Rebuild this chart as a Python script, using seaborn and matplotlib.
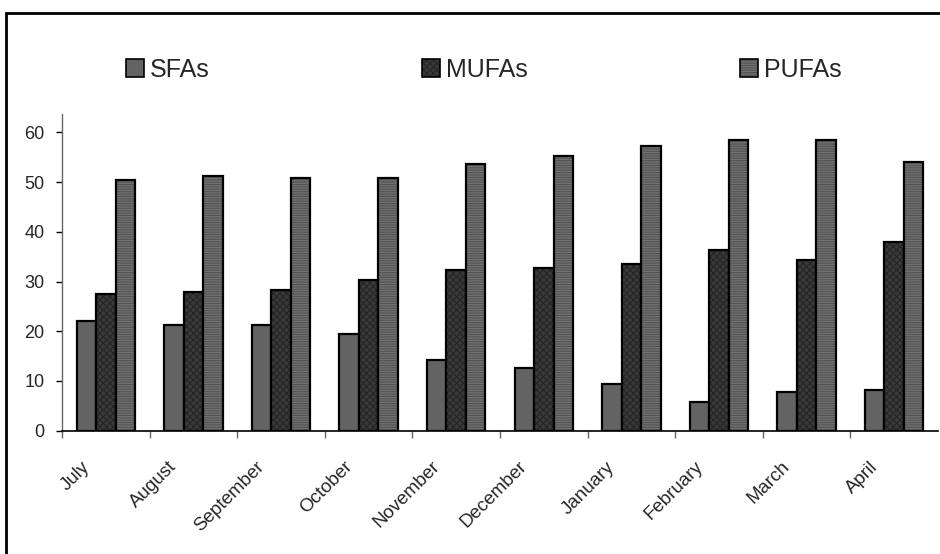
import matplotlib
matplotlib.use("Agg")
import matplotlib.pyplot as plt
import matplotlib.patches as mpatches
import matplotlib.transforms as mtransforms
from matplotlib.colors import to_rgba
import seaborn as sns
import pandas as pd
import numpy as np

months = ["July", "August", "September", "October", "November",
          "December", "January", "February", "March", "April"]
sfas = [22.1, 21.3, 21.3, 19.4, 14.2, 12.6, 9.4, 5.8, 7.8, 8.2]
mufas = [27.4, 27.8, 28.2, 30.3, 32.3, 32.7, 33.5, 36.3, 34.3, 37.9]
pufas = [50.4, 51.2, 50.8, 50.8, 53.6, 55.2, 57.3, 58.5, 58.5, 54.1]
series = ["SFAs", "MUFAs", "PUFAs"]
yticks = [0, 10, 20, 30, 40, 50, 60]

df = pd.DataFrame({
    "month": months * 3,
    "value": sfas + mufas + pufas,
    "series": [s for s in series for _ in months],
})

sns.set_theme(style="white")
plt.rcParams["font.family"] = ["Liberation Sans", "DejaVu Sans"]
plt.rcParams["hatch.linewidth"] = 0.8

fig = plt.figure(figsize=(9.4, 5.54), dpi=100)
ax = fig.add_axes([62 / 940, 1 - 430.7 / 554, (938 - 62) / 940, (430.7 - 114) / 554])

colors = {"SFAs": "#636363", "MUFAs": "#3a3a3a", "PUFAs": "#727272"}
hatches = {"SFAs": "", "MUFAs": "xxxxx", "PUFAs": "-------"}
hatch_colors = {"SFAs": "#555555", "MUFAs": "#242424", "PUFAs": "#525252"}

sns.barplot(data=df, x="month", y="value", hue="series", order=months,
            hue_order=series, palette=colors, width=0.667, saturation=1,
            edgecolor="black", linewidth=1.6, ax=ax, legend=False)

for cont, s in zip(ax.containers, series):
    for p in cont:
        p.set_hatch(hatches[s])
        p._hatch_color = to_rgba(hatch_colors[s])

ax.set_ylim(0, 63.7)
ax.set_xlim(-0.5, 9.5)
ax.set_yticks(yticks)
ax.set_yticklabels([str(v) for v in yticks], fontsize=13)
ax.set_xlabel("")
ax.set_ylabel("")

for side in ["top", "right"]:
    ax.spines[side].set_visible(False)
ax.spines["left"].set_color("#666666")
ax.spines["left"].set_linewidth(1.0)
ax.spines["bottom"].set_color("black")
ax.spines["bottom"].set_linewidth(1.2)

ax.tick_params(axis="y", which="major", direction="out", length=4.5, width=1,
               color="black", left=True, pad=8)
ax.set_xticks(np.arange(len(months)))
ax.set_xticklabels(months, rotation=45, ha="right", rotation_mode="anchor",
                   fontsize=13.5)
ax.tick_params(axis="x", which="major", length=0, pad=17)
offset = mtransforms.ScaledTranslation(-0.19, -0.10, fig.dpi_scale_trans)
for lbl in ax.get_xticklabels():
    lbl.set_va("center")
    lbl.set_transform(lbl.get_transform() + offset)
ax.set_xticks(np.arange(len(months)) - 0.5, minor=True)
ax.tick_params(axis="x", which="minor", direction="out", length=5, width=1,
               color="#666666", bottom=True)

handles = [mpatches.Patch(facecolor=colors[s], edgecolor="black", hatch=hatches[s],
                          linewidth=1.2, label=s) for s in series]
leg = fig.legend(handles=handles, loc="center left", bbox_to_anchor=(126 / 940, 1 - 70 / 554),
                 ncol=3, frameon=False, fontsize=18, handlelength=0.7, handleheight=0.75,
                 handletextpad=0.25, columnspacing=8.5, borderaxespad=0, borderpad=0)
for p, s in zip(leg.get_patches(), series):
    p._hatch_color = to_rgba(hatch_colors[s])

frame = mpatches.Rectangle((6 / 940, -0.1), 2.0, 1.1 - 13 / 554, transform=fig.transFigure,
                           fill=False, edgecolor="black", linewidth=2, clip_on=False)
fig.patches.append(frame)

fig.savefig("out.png", dpi=100)
